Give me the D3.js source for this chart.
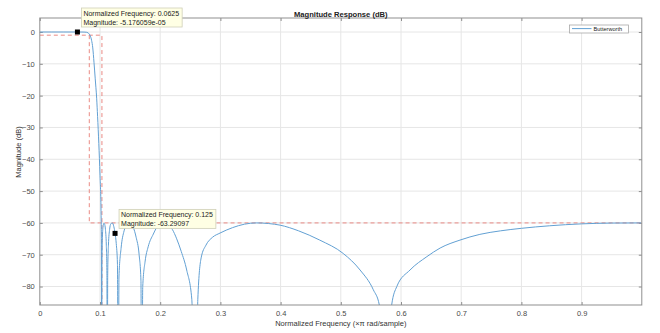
<!DOCTYPE html>
<html>
<head>
<meta charset="utf-8">
<script src="https://cdn.jsdelivr.net/npm/d3@7"></script>
<style>
  body { margin: 0; background: #fff; }
  text { font-family: Arial, "Liberation Sans", Helvetica, sans-serif; }
</style>
</head>
<body>
<svg id="chart" width="660" height="333"></svg>
<script>
// Magnitude response of the lowpass filter (normalized frequency, dB)
const freq = [
  0, 0.02, 0.04, 0.0625, 0.070, 0.075, 0.078, 0.080, 0.082, 0.084, 0.086, 0.088,
  0.090, 0.092, 0.0945, 0.096, 0.098, 0.100, 0.1017, 0.1023, 0.1028,
  0.1033, 0.104, 0.105, 0.1065, 0.1075, 0.109, 0.1105, 0.1115, 0.1121,
  0.1128, 0.114, 0.116, 0.118, 0.1204, 0.123, 0.125, 0.127, 0.129, 0.1304,
  0.1315, 0.135, 0.140, 0.145, 0.149, 0.155, 0.160, 0.165, 0.168, 0.1693,
  0.171, 0.175, 0.180, 0.1886, 0.195, 0.203, 0.210, 0.220, 0.2274, 0.235, 0.244, 0.2525, 0.2585,
  0.2625, 0.268, 0.276, 0.287, 0.2993, 0.32, 0.34, 0.36, 0.38, 0.399, 0.43, 0.465,
  0.504, 0.532, 0.554, 0.564, 0.5745,
  0.5845, 0.593, 0.615, 0.643, 0.665, 0.698, 0.731, 0.765, 0.8, 0.847, 0.9, 0.95, 0.999
];
const magDb = [
  0, 0, 0, -5.176059e-05, -0.01, -0.04, -0.1, -0.25, -0.6, -1.3, -2.6, -5,
  -9.5, -14.5, -21, -26.5, -35, -45, -56, -66, -130,
  -72, -64.5, -61.3, -60.1, -60.3, -62, -67, -76, -130,
  -76, -67, -62, -60.3, -60, -61.2, -63.29097, -66.5, -73, -130,
  -77, -68, -62.5, -60.3, -60, -61.3, -64.5, -70, -78, -130,
  -80, -72, -67.5, -63.5, -61.2, -60.1, -60.3, -62, -65, -69, -74.8, -84, -130,
  -84, -71, -67, -64.5, -63.2, -61.5, -60.4, -60, -60.2, -60.7, -62.5, -65.4,
  -69.6, -74.8, -81, -85.8, -130,
  -85.8, -80, -74.8, -70.6, -67.9, -65.4, -63.6, -62.5, -61.7, -60.9, -60.3, -60.05, -60
];

// Specification mask (dashed)
const maskPassFreq = [0, 0.1032, 0.1032];
const maskPassMag  = [-1, -1, -200];
const maskStopFreq = [0.0822, 0.0822, 0.999];
const maskStopMag  = [-1, -60, -60];

// Axis ticks
const xTicks = [0, 0.1, 0.2, 0.3, 0.4, 0.5, 0.6, 0.7, 0.8, 0.9];
const yTicks = [-80, -70, -60, -50, -40, -30, -20, -10, 0];

// Data tips
const tipFreq = [0.0625, 0.125];
const tipMag  = [-5.176059e-05, -63.29097];

const seriesName = "Butterworth";

const svg = d3.select("#chart");
const plotLeft = 39.8, plotRight = 641.8, plotTop = 18, plotBottom = 305;

const x = d3.scaleLinear().domain([0, 1]).range([plotLeft, plotRight]);
const y = d3.scaleLinear().domain([-85.8, 4.4]).range([plotBottom, plotTop]);

const gridColor = "#e6e6e6", boxColor = "#8f8f8f", labelColor = "#4a4a4a";
const curveColor = "#62a0d3";

// grid
const grid = svg.append("g");
grid.selectAll("line.gx").data(xTicks.filter(d => d > 0)).join("line")
  .attr("x1", d => x(d)).attr("x2", d => x(d)).attr("y1", plotTop).attr("y2", plotBottom)
  .attr("stroke", gridColor).attr("stroke-width", 1);
grid.selectAll("line.gy").data(yTicks).join("line")
  .attr("x1", plotLeft).attr("x2", plotRight).attr("y1", d => y(d)).attr("y2", d => y(d))
  .attr("stroke", gridColor).attr("stroke-width", 1);

// axes with inward ticks on all four sides
const tickLen = 3;
const xAxisB = d3.axisBottom(x).tickValues(xTicks).tickSize(-tickLen).tickPadding(6).tickFormat(d3.format("~g"));
const xAxisT = d3.axisTop(x).tickValues(xTicks).tickSize(-tickLen).tickFormat("");
const yAxisL = d3.axisLeft(y).tickValues(yTicks).tickSize(-tickLen).tickPadding(5).tickFormat(d3.format("d"));
const yAxisR = d3.axisRight(y).tickValues(yTicks).tickSize(-tickLen).tickFormat("");

function styleAxis(g) {
  g.select(".domain").remove();
  g.selectAll(".tick line").attr("stroke", boxColor);
  g.selectAll(".tick text").attr("fill", labelColor).style("font-size", "7.5px");
}
svg.append("g").attr("transform", `translate(0,${plotBottom})`).call(xAxisB).call(styleAxis);
svg.append("g").attr("transform", `translate(0,${plotTop})`).call(xAxisT).call(styleAxis);
svg.append("g").attr("transform", `translate(${plotLeft},0)`).call(yAxisL).call(styleAxis);
svg.append("g").attr("transform", `translate(${plotRight},0)`).call(yAxisR).call(styleAxis);

// clip to plot area
svg.append("clipPath").attr("id", "plotClip")
  .append("rect").attr("x", plotLeft).attr("y", plotTop)
  .attr("width", plotRight - plotLeft).attr("height", plotBottom - plotTop);

const plot = svg.append("g").attr("clip-path", "url(#plotClip)");

// mask lines
const maskLine = d3.line().x(d => x(d[0])).y(d => y(d[1]));
[[maskPassFreq, maskPassMag], [maskStopFreq, maskStopMag]].forEach(([fs, ms]) => {
  plot.append("path")
    .attr("d", maskLine(fs.map((f, i) => [f, ms[i]])))
    .attr("fill", "none").attr("stroke", "#ea8a84").attr("stroke-width", 1)
    .attr("stroke-dasharray", "4,3");
});

// response curve
const respLine = d3.line().x(d => x(d[0])).y(d => y(d[1])).curve(d3.curveMonotoneX);
plot.append("path")
  .attr("d", respLine(freq.map((f, i) => [f, magDb[i]])))
  .attr("fill", "none").attr("stroke", curveColor).attr("stroke-width", 1);

// box
svg.append("rect").attr("x", plotLeft).attr("y", plotTop)
  .attr("width", plotRight - plotLeft).attr("height", plotBottom - plotTop)
  .attr("fill", "none").attr("stroke", boxColor).attr("stroke-width", 1);

// title and axis labels
svg.append("text").attr("x", (plotLeft + plotRight) / 2).attr("y", 16.5).attr("text-anchor", "middle")
  .style("font-size", "7.6px").style("font-weight", "bold").attr("fill", "#222")
  .text("Magnitude Response (dB)");
svg.append("text").attr("x", (plotLeft + plotRight) / 2).attr("y", 326).attr("text-anchor", "middle")
  .style("font-size", "7.5px").attr("fill", "#333")
  .text("Normalized Frequency (\u00d7\u03c0 rad/sample)");
svg.append("text").attr("transform", `translate(20.5,152) rotate(-90)`).attr("text-anchor", "middle")
  .style("font-size", "7.5px").attr("fill", "#333")
  .text("Magnitude (dB)");

// legend
const lg = svg.append("g");
lg.append("rect").attr("x", 569.5).attr("y", 25).attr("width", 59).attr("height", 8)
  .attr("fill", "#fff").attr("stroke", "#a8a8a8").attr("stroke-width", 0.8);
lg.append("line").attr("x1", 572).attr("x2", 591.5).attr("y1", 28.6).attr("y2", 28.6)
  .attr("stroke", curveColor).attr("stroke-width", 1);
lg.append("text").attr("x", 593.5).attr("y", 31).style("font-size", "5.6px").attr("fill", "#222")
  .text(seriesName);

// data tips
function fmtMag(v) {
  if (Math.abs(v) < 1e-3) {
    const s = v.toExponential(6);
    return s.replace(/e([+-])(\d)$/, "e$10$2");
  }
  return String(v);
}
tipFreq.forEach((f, i) => {
  const mx = x(f), my = y(tipMag[i]);
  const g = svg.append("g");
  const lines = [`Normalized Frequency: ${f}`, `Magnitude: ${fmtMag(tipMag[i])}`];
  const box = g.append("rect");
  const texts = lines.map((t, k) => g.append("text")
    .attr("x", mx + 6).attr("y", my - 16 + k * 8.6)
    .style("font-size", "7px").attr("fill", "#222").text(t));
  const w = d3.max(texts, t => t.node().getComputedTextLength()) + 5;
  box.attr("x", mx + 4).attr("y", my - 24).attr("width", w).attr("height", 19)
    .attr("fill", "#ffffe4").attr("stroke", "#cfcfb8").attr("stroke-width", 0.8);
  g.append("rect").attr("x", mx - 2.5).attr("y", my - 2.5).attr("width", 5).attr("height", 5)
    .attr("fill", "#000");
});
</script>
</body>
</html>
